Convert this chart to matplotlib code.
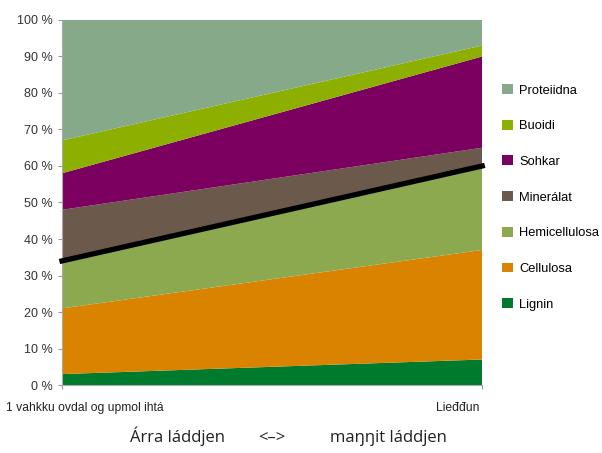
import matplotlib.pyplot as plt
from matplotlib.patches import Patch

# --- データ ---
stages = ["1 vahkku ovdal og upmol ihtá", "Lieđđun"]
components = ["Lignin", "Cellulosa", "Hemicellulosa", "Minerálat", "Sohkar", "Buoidi", "Proteiidna"]
lignin = [3, 7]
cellulosa = [18, 30]
hemicellulosa = [13, 23]
mineralat = [14, 5]
sohkar = [10, 25]
buoidi = [9, 3]
proteiidna = [33, 7]
colors = ["#007a2c", "#d98300", "#8ca94f", "#6b5a4c", "#7b005f", "#8db000", "#86a98a"]

plt.rcParams["font.family"] = ["Liberation Sans Narrow", "Liberation Sans", "DejaVu Sans"]

fig = plt.figure(figsize=(6.02, 4.53), dpi=100)
ax = fig.add_axes([0.103, 0.150, 0.698, 0.806])

x = [0, 1]
series = [lignin, cellulosa, hemicellulosa, mineralat, sohkar, buoidi, proteiidna]
ax.stackplot(x, *series, colors=colors, linewidth=0)

# 黒線 (Lignin + Cellulosa + Hemicellulosa の境界)
boundary = [a + b + c for a, b, c in zip(lignin, cellulosa, hemicellulosa)]
ax.plot(x, boundary, color="black", lw=3.8, solid_capstyle="projecting", clip_on=False, zorder=5)

ax.set_xlim(0, 1)
ax.set_ylim(0, 100)
ax.set_yticks(range(0, 101, 10))
ax.set_yticklabels([f"{v} %" for v in range(0, 101, 10)], fontsize=9, color="#333333")
ax.set_xticks(x)
ax.set_xticklabels([])
ax.tick_params(axis="both", length=3, color="#999999", width=0.8)
for s in ["top", "right"]:
    ax.spines[s].set_visible(False)
for s in ["left", "bottom"]:
    ax.spines[s].set_color("#aaaaaa")
    ax.spines[s].set_linewidth(0.8)

# x軸ラベル
ax.annotate(stages[0], xy=(0, 0), xycoords="axes fraction", xytext=(-40, -12),
            textcoords="offset points", ha="left", va="top", fontsize=8.7, color="#222222")
ax.annotate(stages[1], xy=(1, 0), xycoords="axes fraction", xytext=(-2, -12),
            textcoords="offset points", ha="right", va="top", fontsize=8.7, color="#222222")

bottom_font = ["Open Sans", "DejaVu Sans"]
fig.text(0.216, 0.025, "Árra láddjen", fontsize=12, color="#222222", family=bottom_font)
fig.text(0.428, 0.025, "<–>", fontsize=12, color="#222222", family=bottom_font)
fig.text(0.548, 0.025, "maŋŋit láddjen", fontsize=12, color="#222222", family=bottom_font)

# 凡例
handles = [Patch(facecolor=c, edgecolor="none") for c in colors][::-1]
labels = components[::-1]
fig.legend(handles, labels, loc="upper left", bbox_to_anchor=(0.815, 0.84), frameon=False,
           fontsize=9.3, handlelength=0.8, handleheight=0.8, handletextpad=0.5, labelspacing=1.8)

fig.savefig("out.png", dpi=100)
